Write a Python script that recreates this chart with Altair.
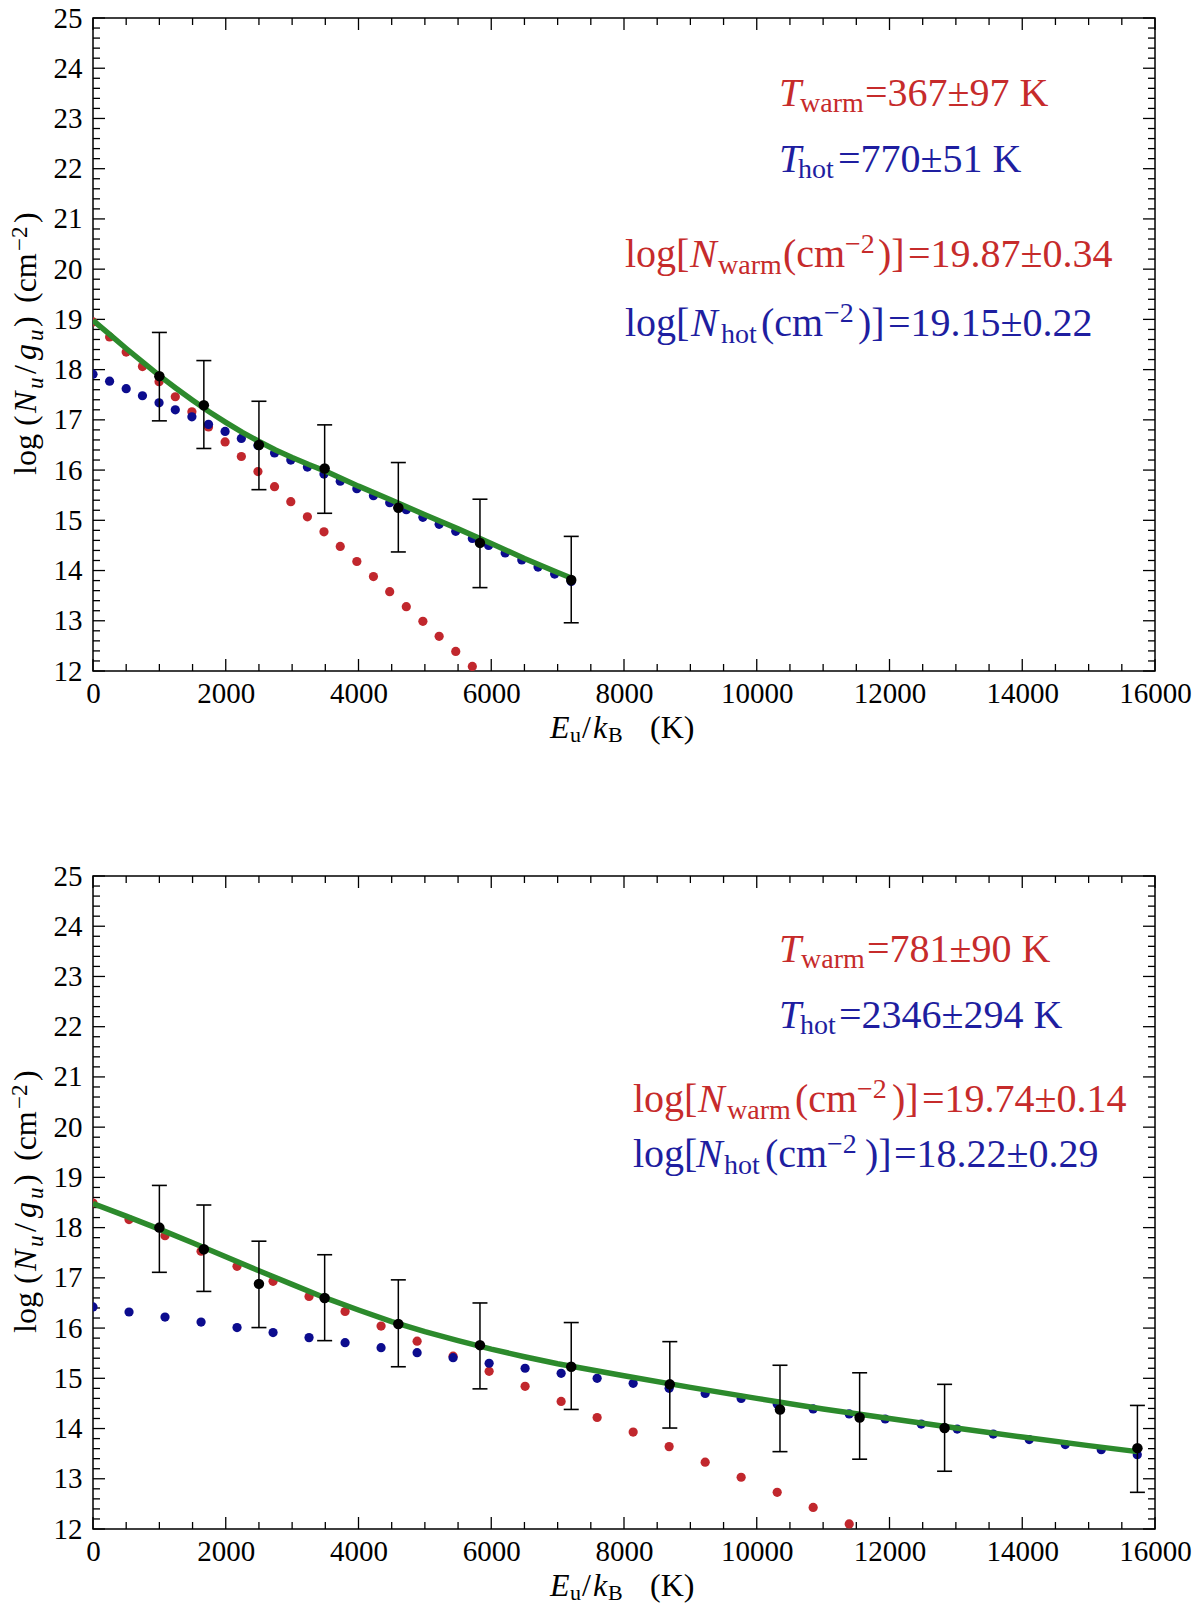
import altair as alt
import pandas as pd

# Rotational diagram, two panels: warm (red) + hot (blue) components, green = total fit

FONT = "Liberation Serif"
RED = "#c1272d"
BLUE = "#0c0c8e"
GREEN = "#2c8a2c"
TXT_RED = "#c62b2b"
TXT_BLUE = "#1e1ea0"

W, H = 1062, 653

# ---------------- top panel data ----------------
p1_model_x = [0, 250, 500, 745, 995, 1240, 1490, 1740, 1990, 2235, 2485, 2735, 2980, 3230,
              3480, 3725, 3975, 4225, 4470, 4720, 4970, 5215, 5465, 5715, 5960, 6210, 6460,
              6705, 6955, 7205]
p1_warm_y = [18.95, 18.65, 18.35, 18.06, 17.76, 17.46, 17.16, 16.86, 16.56, 16.27, 15.97, 15.67,
             15.37, 15.07, 14.77, 14.48, 14.18, 13.88, 13.58, 13.28, 12.99, 12.69, 12.39, 12.09]
p1_hot_y = [17.91, 17.77, 17.62, 17.48, 17.34, 17.20, 17.06, 16.91, 16.77, 16.63, 16.49, 16.34,
            16.20, 16.06, 15.92, 15.78, 15.63, 15.49, 15.35, 15.21, 15.06, 14.92, 14.78, 14.64,
            14.50, 14.35, 14.21, 14.07, 13.93, 13.78]
p1_fit_x = [0, 250, 500, 750, 1000, 1250, 1500, 1750, 2000, 2250, 2500, 2750, 3000, 3250, 3500,
            4000, 4500, 5000, 5500, 6000, 6500, 7000, 7205]
p1_fit_y = [18.98, 18.70, 18.42, 18.15, 17.88, 17.63, 17.39, 17.16, 16.95, 16.75, 16.57, 16.40,
            16.25, 16.11, 15.98, 15.68, 15.40, 15.11, 14.83, 14.54, 14.24, 13.96, 13.85]
p1_obs_x = [1000, 1670, 2500, 3490, 4600, 5830, 7205]
p1_obs_y = [17.87, 17.29, 16.50, 16.03, 15.25, 14.55, 13.81]
p1_obs_lo = [16.98, 16.43, 15.61, 15.14, 14.37, 13.66, 12.96]
p1_obs_hi = [18.74, 18.18, 17.37, 16.90, 16.15, 15.42, 14.68]

# ---------------- bottom panel data ----------------
p2_model_x = [0, 543, 1085, 1628, 2170, 2713, 3255, 3798, 4340, 4883, 5425, 5968, 6510, 7053,
              7595, 8138, 8680, 9223, 9765, 10308, 10850, 11393, 11935, 12478, 13020, 13563,
              14105, 14648, 15190, 15733]
p2_warm_y = [18.49, 18.16, 17.84, 17.53, 17.23, 16.93, 16.63, 16.33, 16.04, 15.74, 15.44, 15.14,
             14.84, 14.54, 14.22, 13.93, 13.64, 13.33, 13.03, 12.73, 12.43, 12.10]
p2_hot_y = [16.42, 16.32, 16.22, 16.12, 16.01, 15.91, 15.81, 15.71, 15.61, 15.51, 15.41, 15.30,
            15.20, 15.10, 15.00, 14.90, 14.80, 14.70, 14.60, 14.49, 14.39, 14.29, 14.19, 14.09,
            13.99, 13.89, 13.78, 13.68, 13.58, 13.48]
p2_fit_x = [0, 500, 1000, 1500, 2000, 2500, 3000, 3500, 4000, 4500, 5000, 5500, 6000, 6500,
            7000, 7500, 8000, 9000, 10000, 11000, 12000, 13000, 14000, 15000, 15733]
p2_fit_y = [18.48, 18.23, 17.97, 17.70, 17.42, 17.14, 16.87, 16.60, 16.36, 16.13, 15.93, 15.75,
            15.58, 15.43, 15.29, 15.17, 15.05, 14.82, 14.60, 14.39, 14.20, 14.01, 13.83, 13.66,
            13.54]
p2_obs_x = [1000, 1670, 2500, 3490, 4600, 5830, 7205, 8690, 10350, 11550, 12830, 15735]
p2_obs_y = [18.00, 17.57, 16.88, 16.60, 16.08, 15.66, 15.23, 14.88, 14.38, 14.22, 14.01, 13.61]
p2_obs_lo = [17.11, 16.73, 16.01, 15.75, 15.23, 14.79, 14.38, 14.01, 13.54, 13.39, 13.15, 12.73]
p2_obs_hi = [18.84, 18.45, 17.73, 17.46, 16.96, 16.50, 16.11, 15.73, 15.26, 15.11, 14.88, 14.46]

# ---------------- ticks ----------------
x_major = [0, 2000, 4000, 6000, 8000, 10000, 12000, 14000, 16000]
x_minor = [v for v in range(0, 16001, 500) if v % 2000]
y_major = list(range(12, 26))
y_minor = [round(12 + i / 5, 1) for i in range(66) if i % 5]

# ---------------- text pieces (text, x px, y px, size, colour, italic) ----------------
p1_notes = [
    ("T", 686, 88, 40, TXT_RED, True),
    ("warm", 707, 94, 28, TXT_RED, False),
    ("=367±97 K", 772, 88, 40, TXT_RED, False),
    ("T", 686, 154, 40, TXT_BLUE, True),
    ("hot", 705, 160, 28, TXT_BLUE, False),
    ("=770±51 K", 745, 154, 40, TXT_BLUE, False),
    ("log[", 532, 249, 40, TXT_RED, False),
    ("N", 597, 249, 40, TXT_RED, True),
    ("warm", 625, 256, 28, TXT_RED, False),
    ("(cm", 690, 249, 40, TXT_RED, False),
    ("−2", 752, 235, 28, TXT_RED, False),
    (")]", 785, 249, 40, TXT_RED, False),
    ("=19.87±0.34", 815, 249, 40, TXT_RED, False),
    ("log[", 532, 318, 40, TXT_BLUE, False),
    ("N", 598, 318, 40, TXT_BLUE, True),
    ("hot", 628, 325, 28, TXT_BLUE, False),
    ("(cm", 668, 318, 40, TXT_BLUE, False),
    ("−2", 731, 304, 28, TXT_BLUE, False),
    (")]", 765, 318, 40, TXT_BLUE, False),
    ("=19.15±0.22", 795, 318, 40, TXT_BLUE, False),
]
p2_notes = [
    ("T", 686, 86, 40, TXT_RED, True),
    ("warm", 708, 92, 28, TXT_RED, False),
    ("=781±90 K", 774, 86, 40, TXT_RED, False),
    ("T", 686, 152, 40, TXT_BLUE, True),
    ("hot", 707, 158, 28, TXT_BLUE, False),
    ("=2346±294 K", 746, 152, 40, TXT_BLUE, False),
    ("log[", 540, 236, 40, TXT_RED, False),
    ("N", 605, 236, 40, TXT_RED, True),
    ("warm", 634, 243, 28, TXT_RED, False),
    ("(cm", 702, 236, 40, TXT_RED, False),
    ("−2", 764, 222, 28, TXT_RED, False),
    (")]", 799, 236, 40, TXT_RED, False),
    ("=19.74±0.14", 829, 236, 40, TXT_RED, False),
    ("log[", 540, 291, 40, TXT_BLUE, False),
    ("N", 603, 291, 40, TXT_BLUE, True),
    ("hot", 631, 298, 28, TXT_BLUE, False),
    ("(cm", 672, 291, 40, TXT_BLUE, False),
    ("−2", 734, 277, 28, TXT_BLUE, False),
    (")]", 772, 291, 40, TXT_BLUE, False),
    ("=18.22±0.29", 801, 291, 40, TXT_BLUE, False),
]
# x title  E_u / k_B (K)
xtitle = [
    ("E", 457, H + 67, 32, "black", True),
    ("u", 477, H + 71, 22, "black", False),
    ("/", 489, H + 67, 32, "black", False),
    ("k", 500, H + 67, 32, "black", True),
    ("B", 515, H + 71, 22, "black", False),
    ("(K)", 557, H + 67, 32, "black", False),
]
# y title  log (N_u/g_u) (cm^-2), rotated, read bottom to top
ytitle = [
    ("log", -57, 457, 32, "black", False),
    ("(", -57, 408, 32, "black", False),
    ("N", -57, 395, 32, "black", True),
    ("u", -50, 371, 23, "black", True),
    ("/", -57, 356, 32, "black", False),
    ("g", -57, 342, 32, "black", True),
    ("u", -50, 323, 23, "black", True),
    (")", -57, 309, 32, "black", False),
    ("(cm", -57, 285, 32, "black", False),
    ("−2", -66, 233, 23, "black", False),
    (")", -57, 205, 32, "black", False),
]

x_scale = alt.Scale(domain=[0, 16000], nice=False, zero=False)
y_scale = alt.Scale(domain=[12, 25], nice=False, zero=False)

x_axis = alt.Axis(values=x_major, ticks=False, domain=False, grid=False, title=None,
                  labelFont=FONT, labelFontSize=29, labelColor="black", labelPadding=8,
                  labelFlush=False, labelOverlap=False, labelBound=False, format="d")
y_axis = alt.Axis(values=y_major, ticks=False, domain=False, grid=False, title=None,
                  labelFont=FONT, labelFontSize=29, labelColor="black", labelPadding=11,
                  labelOverlap=False, labelBound=False, format="d")


def piece(text, x, y, size, color, italic, angle=0):
    kw = dict(font=FONT, fontSize=size, color=color, align="left", baseline="alphabetic")
    if italic:
        kw["fontStyle"] = "italic"
    if angle:
        kw["angle"] = angle
    return alt.Chart(pd.DataFrame({"t": [text]})).mark_text(**kw).encode(
        x=alt.value(x), y=alt.value(y), text="t:N"
    )


def tick_layers():
    out = []
    for vals, length in ((x_major, 12), (x_minor, 7)):
        d = pd.DataFrame({"v": vals})
        xx = alt.X("v:Q", scale=x_scale, axis=x_axis)
        out.append(alt.Chart(d).mark_rule(color="black", strokeWidth=1.3).encode(
            x=xx, y=alt.value(H), y2=alt.value(H - length)))
        out.append(alt.Chart(d).mark_rule(color="black", strokeWidth=1.3).encode(
            x=xx, y=alt.value(0), y2=alt.value(length)))
    for vals, length in ((y_major, 12), (y_minor, 7)):
        d = pd.DataFrame({"v": vals})
        yy = alt.Y("v:Q", scale=y_scale, axis=y_axis)
        out.append(alt.Chart(d).mark_rule(color="black", strokeWidth=1.3).encode(
            y=yy, x=alt.value(0), x2=alt.value(length)))
        out.append(alt.Chart(d).mark_rule(color="black", strokeWidth=1.3).encode(
            y=yy, x=alt.value(W), x2=alt.value(W - length)))
    return out


def panel(model_x, warm_y, hot_y, fit_x, fit_y, obs_x, obs_y, obs_lo, obs_hi, notes):
    warm = pd.DataFrame({"x": model_x[:len(warm_y)], "y": warm_y})
    hot = pd.DataFrame({"x": model_x, "y": hot_y})
    fit = pd.DataFrame({"x": fit_x, "y": fit_y})
    obs = pd.DataFrame({"x": obs_x, "y": obs_y, "lo": obs_lo, "hi": obs_hi})

    xx = alt.X("x:Q", scale=x_scale, axis=x_axis)
    yy = alt.Y("y:Q", scale=y_scale, axis=y_axis)

    layers = tick_layers()
    layers.append(alt.Chart(warm).mark_circle(size=85, color=RED, opacity=1, clip=True)
                  .encode(x=xx, y=yy))
    layers.append(alt.Chart(hot).mark_circle(size=85, color=BLUE, opacity=1, clip=True)
                  .encode(x=xx, y=yy))
    layers.append(alt.Chart(fit).mark_line(color=GREEN, strokeWidth=5.5, clip=True)
                  .encode(x=xx, y=yy))
    layers.append(alt.Chart(obs).mark_rule(color="black", strokeWidth=1.5)
                  .encode(x=xx, y=alt.Y("lo:Q", scale=y_scale, axis=y_axis), y2="hi:Q"))
    for f in ("lo", "hi"):
        layers.append(alt.Chart(obs).mark_tick(orient="horizontal", size=15, thickness=1.6,
                                               color="black", opacity=1)
                      .encode(x=xx, y=alt.Y(f"{f}:Q", scale=y_scale, axis=y_axis)))
    layers.append(alt.Chart(obs).mark_circle(size=110, color="black", opacity=1)
                  .encode(x=xx, y=yy))

    for t in notes + xtitle:
        layers.append(piece(*t))
    for t in ytitle:
        layers.append(piece(*t, angle=270))

    return alt.layer(*layers).properties(width=W, height=H)


top = panel(p1_model_x, p1_warm_y, p1_hot_y, p1_fit_x, p1_fit_y,
            p1_obs_x, p1_obs_y, p1_obs_lo, p1_obs_hi, p1_notes)
bottom = panel(p2_model_x, p2_warm_y, p2_hot_y, p2_fit_x, p2_fit_y,
               p2_obs_x, p2_obs_y, p2_obs_lo, p2_obs_hi, p2_notes)

chart = (
    alt.vconcat(top, bottom, spacing=205, bounds="flush")
    .properties(padding={"left": 0, "top": -5, "right": 0, "bottom": 0})
    .configure(background="white")
    .configure_view(stroke="black", strokeWidth=1.5)
)

chart.save("out.html", embed_options={"renderer": "svg", "actions": False})
